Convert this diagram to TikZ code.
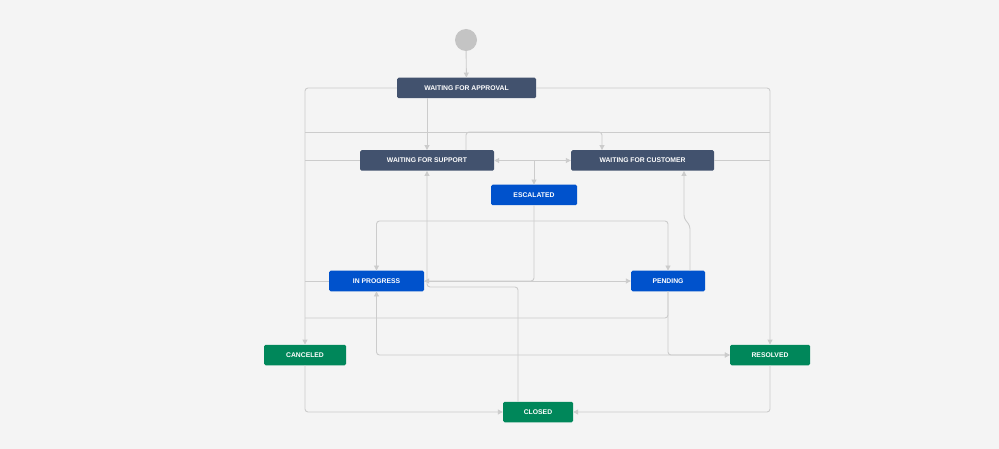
\documentclass[tikz,border=0pt]{standalone}
\usepackage{fontspec}
\setmainfont{Liberation Sans}
\usetikzlibrary{arrows.meta}
\definecolor{bg}{HTML}{F4F4F4}
\definecolor{dk}{HTML}{42526E}
\definecolor{bl}{HTML}{0052CC}
\definecolor{gr}{HTML}{00875A}
\definecolor{ln}{HTML}{CCCCCC}
\begin{document}
\begin{tikzpicture}[x=1pt,y=-1pt,
  box/.style={rounded corners=1.5pt,text=white,font=\fontsize{6.8}{8}\selectfont\bfseries,minimum height=20.5pt,inner sep=0pt},
  dkb/.style={box,fill=dk},
  blb/.style={box,fill=bl},
  grb/.style={box,fill=gr},
  wire/.style={draw=ln,line width=0.9pt,rounded corners=3pt},
  ar/.style={wire,-{Triangle[width=5pt,length=5pt]}},
  arr/.style={wire,{Triangle[width=5pt,length=5pt]}-{Triangle[width=5pt,length=5pt]}}]
\fill[bg] (0,0) rectangle (999,449);
\useasboundingbox (0,0) rectangle (999,449);
\node[circle,fill=ln!90!gray,minimum size=22pt,inner sep=0] (S) at (466,40) {};
\node[dkb,minimum width=139pt] (WFA) at (466.5,88) {WAITING FOR APPROVAL};
\node[dkb,minimum width=134pt] (WFS) at (427,160.5) {WAITING FOR SUPPORT};
\node[dkb,minimum width=143pt] (WFC) at (642.5,160.5) {WAITING FOR CUSTOMER};
\node[blb,minimum width=86pt] (ESC) at (534,195) {ESCALATED};
\node[blb,minimum width=95pt] (IP) at (376.5,281) {IN PROGRESS};
\node[blb,minimum width=74pt] (PEN) at (668,281) {PENDING};
\node[grb,minimum width=82pt] (CAN) at (305,355) {CANCELED};
\node[grb,minimum width=80pt] (RES) at (770,355) {RESOLVED};
\node[grb,minimum width=70pt] (CLO) at (538,412) {CLOSED};
\coordinate (L132) at (305,132);
\coordinate (R132) at (770,132);
\draw[ar] (S) -- (WFA);
\draw[ar] (WFA.west) -| (CAN.north);
\draw[ar] (WFA.east) -| (RES.north);
\draw[ar] (WFS.north |- WFA.south) -- (WFS.north);
\draw[wire] (L132) -- (R132);
\draw[ar] ([xshift=39pt]WFS.north) -- ++(0,-18) -| ([xshift=-40.5pt]WFC.north);
\draw[arr] (WFS.east) -- (WFC.west);
\draw[ar] (ESC.north |- WFS.east) -- (ESC.north);
\draw[wire] (WFS.west) -- (WFS.west -| L132);
\draw[wire] (WFC.east) -- (WFC.east -| R132);
\draw[ar] (ESC.south) |- (IP.east);
\draw[ar] (IP.east) -- (PEN.west);
\draw[ar] (WFS.south |- 0,221) -| (IP.north);
\draw[ar] (WFS.south |- 0,221) -| (PEN.north);
\draw[ar] ([xshift=-20pt]CLO.north) |- (427,287) -- (WFS.south);
\draw[ar] ([xshift=22pt]PEN.north) -- (690,226) -- (684,218) -- ([xshift=41.5pt]WFC.south);
\draw[wire] (IP.west) -- (IP.west -| L132);
\draw[wire] (PEN.south) |- (305,318);
\draw[ar] (PEN.south) |- (RES.west);
\draw[arr] (IP.south) |- (RES.west);
\draw[ar] (CAN.south) |- (CLO.west);
\draw[ar] (RES.south) |- (CLO.east);
\end{tikzpicture}
\end{document}
